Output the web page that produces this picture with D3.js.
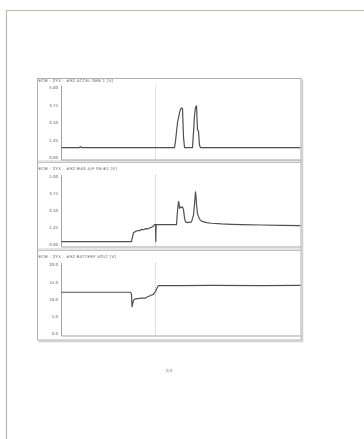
<!DOCTYPE html>
<html><head><meta charset="utf-8">
<script src="https://cdn.jsdelivr.net/npm/d3@7"></script>
<style>html,body{margin:0;padding:0;background:#fff;}svg{display:block;}</style>
</head><body>
<svg id="c" width="364" height="439"></svg>
<script>
// ---- data ----
const panelTitles = [
  "ECM - 2YX - #92 ACCEL SEN 1 [V]",
  "ECM - 2YX - #92 MAS A/F SE-B1 [V]",
  "ECM - 2YX - #92 BATTERY VOLT [V]"
];
const tickLabels1 = ["0.00","1.25","2.50","3.75","5.00"];
const tickLabels2 = ["0.00","1.25","2.50","3.75","5.00"];
const tickLabels3 = ["0.0","5.0","10.0","15.0","20.0"];
const pageLabel = "2/3";
const markerTime = 94;

const accelT = [0,18,19,20,113,114,116,118,119,120,121,122,123,131,132,133,134,135,136,137,138,139,239];
const accelV = [0.74,0.74,0.8,0.74,0.74,1.2,2.5,3.2,3.45,3.55,3.5,1.5,0.74,0.74,1.8,3.0,3.6,3.7,2.0,1.9,0.9,0.74,0.74];

const mafT = [0,70,71,72,74,76,78,80,82,84,86,88,90,92,93,94,94.3,94.6,96,115,116,117,117.5,118,119,120,121,122,123,124,126,130,132,133,134,134.5,135,136,138,140,145,150,160,170,180,200,220,239];
const mafV = [0.25,0.25,0.6,0.9,1.0,1.05,1.05,1.15,1.12,1.2,1.18,1.25,1.3,1.4,1.5,1.5,0.25,1.5,1.5,1.5,2.5,3.2,3.1,2.7,2.8,2.75,2.8,2.6,2.0,1.7,1.65,1.7,2.2,3.0,3.9,3.6,3.0,2.3,1.9,1.75,1.65,1.6,1.55,1.52,1.5,1.47,1.45,1.43];

const battT = [0,69,70,70.5,71,72,74,78,80,84,86,88,90,92,93,94,95,96,97,120,150,200,239];
const battV = [12.1,12.1,11.5,7.9,8.5,9.8,10.2,10.3,10.4,10.4,10.8,11.0,11.3,11.5,12.0,12.3,13.0,13.6,14.0,14.0,14.1,14.0,14.1];

// ---- layout ----
const svg = d3.select("#c");
const pageStroke = "#babaa8";
svg.append("line").attr("x1",6).attr("x2",364).attr("y1",10.5).attr("y2",10.5).attr("stroke",pageStroke).attr("stroke-width",1.2);
svg.append("line").attr("x1",6.5).attr("x2",6.5).attr("y1",10).attr("y2",439).attr("stroke",pageStroke).attr("stroke-width",1.2);

const box = {x0:37.5, x1:301, y0:78.5, y1:340};
svg.append("path").attr("d",`M${box.x1+1.5},${box.y0+1} V${box.y1+1.5} H${box.x0+1}`)
  .attr("fill","none").attr("stroke","#d0d0d0").attr("stroke-width",1.5);
svg.append("rect").attr("x",box.x0).attr("y",box.y0).attr("width",box.x1-box.x0).attr("height",box.y1-box.y0)
  .attr("fill","none").attr("stroke","#b0b0b0").attr("stroke-width",1);

const plotX0 = 61.5, plotX1 = 300.5;
const x = d3.scaleLinear().domain([0,239]).range([plotX0, plotX1]);

const panels = [
  {title:panelTitles[0], titleY:82, y0:87.5, y1:158, domain:[0,5], ticks:tickLabels1, t:accelT, v:accelV, sep:162},
  {title:panelTitles[1], titleY:169.5, y0:177, y1:245, domain:[0,5], ticks:tickLabels2, t:mafT, v:mafV, sep:250},
  {title:panelTitles[2], titleY:257.5, y0:265, y1:334, domain:[0,20], ticks:tickLabels3, t:battT, v:battV, sep:null}
];

const font = "DejaVu Sans, sans-serif";
panels.forEach((p,i) => {
  const g = svg.append("g");
  if (p.sep) {
    g.append("line").attr("x1",box.x0).attr("x2",box.x1).attr("y1",p.sep-1).attr("y2",p.sep-1).attr("stroke","#c0c0c0").attr("stroke-width",0.8);
    g.append("line").attr("x1",box.x0).attr("x2",box.x1).attr("y1",p.sep+0.5).attr("y2",p.sep+0.5).attr("stroke","#b0b0b0").attr("stroke-width",0.8);
  }
  g.append("text").attr("x",38.5).attr("y",p.titleY).attr("font-family",font)
    .attr("font-size",3.9).attr("letter-spacing",0.3).attr("fill","#555").text(p.title);
  const y = d3.scaleLinear().domain(p.domain).range([p.y1, p.y0]);
  g.selectAll("text.tk").data(p.ticks).join("text").attr("class","tk")
    .attr("x",plotX0-3.5).attr("y",d=>y(+d)+1.4).attr("text-anchor","end")
    .attr("font-family",font).attr("font-size",3.9).attr("fill","#555").text(d=>d);
  const top = p.y0 - 2;
  const bot = p.y1 + 2;
  g.append("line").attr("x1",plotX0).attr("x2",plotX0).attr("y1",top).attr("y2",bot).attr("stroke","#999").attr("stroke-width",0.9);
  g.append("line").attr("x1",plotX0).attr("x2",box.x1).attr("y1",bot).attr("y2",bot).attr("stroke","#999").attr("stroke-width",0.9);
  g.append("line").attr("x1",x(markerTime)).attr("x2",x(markerTime)).attr("y1",top).attr("y2",bot)
    .attr("stroke","#aaa").attr("stroke-width",0.7).attr("stroke-dasharray","1,1");
  const pts = p.t.map((t,k)=>[t,p.v[k]]);
  g.append("path").datum(pts).attr("fill","none").attr("stroke","#505050").attr("stroke-width",1.2)
    .attr("stroke-linejoin","round")
    .attr("d", d3.line().x(d=>x(d[0])).y(d=>y(d[1])));
});

svg.append("text").attr("x",169).attr("y",372).attr("text-anchor","middle")
  .attr("font-family",font).attr("font-size",4).attr("fill","#666").text(pageLabel);
</script>
</body></html>
